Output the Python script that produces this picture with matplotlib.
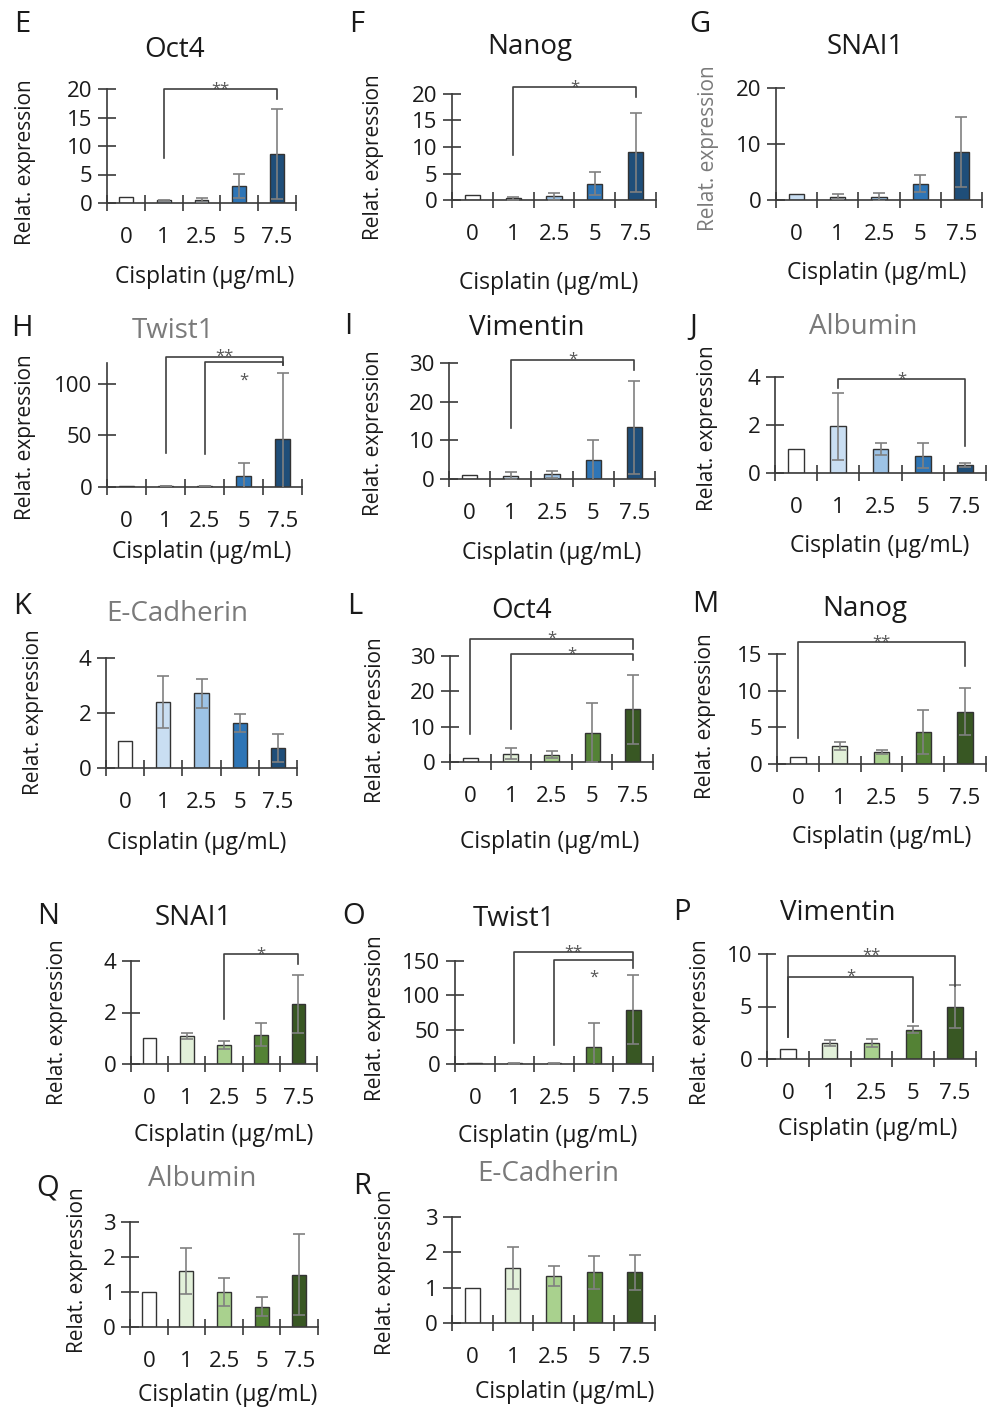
import matplotlib.pyplot as plt
import numpy as np

plt.rcParams['font.family'] = ['Open Sans', 'DejaVu Sans']

W, H = 988, 1410
doses = ['0', '1', '2.5', '5', '7.5']
blues = ['#ffffff', '#c9def2', '#9dc3e6', '#2e75b6', '#1f4e79']
blues_g = ['#c9def2', '#c9def2', '#9dc3e6', '#2e75b6', '#1f4e79']
greens = ['#ffffff', '#e2f0d9', '#a9d18e', '#548235', '#385723']

# blue series (E-K)
oct4_b = [1.0, 0.5, 0.6, 3.0, 8.6]
oct4_b_err = [0, 0.1, 0.35, 2.1, 7.9]
nanog_b = [1.0, 0.3, 0.7, 3.1, 9.0]
nanog_b_err = [0, 0.35, 0.65, 2.1, 7.5]
snai1_b = [1.0, 0.6, 0.6, 2.9, 8.6]
snai1_b_err = [0, 0.5, 0.7, 1.5, 6.2]
twist1_b = [1.0, 0.8, 0.9, 10.3, 46.8]
twist1_b_err = [0, 0.3, 0.3, 12.9, 64.0]
vim_b = [1.0, 0.9, 1.2, 4.8, 13.4]
vim_b_err = [0, 0.9, 0.9, 5.3, 12.0]
alb_b = [1.0, 1.95, 1.0, 0.72, 0.33]
alb_b_err = [0, 1.4, 0.24, 0.52, 0.08]
ecad_b = [1.0, 2.39, 2.72, 1.63, 0.72]
ecad_b_err = [0, 0.95, 0.53, 0.32, 0.5]

# green series (L-R)
oct4_g = [1.0, 2.4, 2.1, 8.3, 14.9]
oct4_g_err = [0, 1.5, 0.9, 8.4, 9.7]
nanog_g = [1.0, 2.45, 1.64, 4.3, 7.1]
nanog_g_err = [0, 0.6, 0.27, 3.0, 3.2]
snai1_g = [1.0, 1.08, 0.74, 1.13, 2.32]
snai1_g_err = [0, 0.12, 0.16, 0.45, 1.13]
twist1_g = [1.0, 1.0, 1.0, 24.2, 79.3]
twist1_g_err = [0, 0.3, 0.3, 36.0, 50.0]
vim_g = [1.0, 1.55, 1.55, 2.8, 5.0]
vim_g_err = [0, 0.3, 0.4, 0.3, 2.05]
alb_g = [1.0, 1.6, 1.0, 0.58, 1.5]
alb_g_err = [0, 0.65, 0.4, 0.27, 1.15]
ecad_g = [1.0, 1.55, 1.32, 1.43, 1.43]
ecad_g_err = [0, 0.6, 0.28, 0.47, 0.5]

# significance brackets: (from, to, top, left end, right end, label, above)
br_E = [(1, 4, 20, 7.9, 18.2, '**', True)]
br_F = [(1, 4, 21.3, 8.5, 19.4, '*', True)]
br_H = [(1, 4, 126, 33, 118, '**', True), (2, 4, 121, 32, 118, '*', False)]
br_I = [(1, 4, 30.9, 13.1, 28.1, '*', True)]
br_J = [(1, 4, 3.9, 3.55, 1.13, '*', True)]
br_L = [(0, 4, 34.9, 8.0, 32.1, '*', True), (1, 4, 30.5, 9.4, 29.0, '*', True)]
br_M = [(0, 4, 16.6, 3.5, 13.3, '**', True)]
br_N = [(2, 4, 4.26, 1.73, 3.9, '*', True)]
br_O = [(1, 4, 163, 30, 153, '**', True), (2, 4, 152, 27, 140, '*', False)]
br_P = [(0, 4, 9.84, 2.1, 6.95, '**', True), (0, 3, 7.84, 2.1, 3.56, '*', True)]

fig = plt.figure(figsize=(W / 100, H / 100), dpi=100)
DARK = '#1a1a1a'
GRAY = '#7a7a7a'


def ftext(x, y, s, **kw):
    fig.text(x / W, 1 - y / H, s, ha='center', va='center', **kw)


def panel(box, vals, errs, colors, ymax, yticks, brackets=()):
    left, right, y0, ytop = box
    ax = fig.add_axes([left / W, 1 - y0 / H, (right - left) / W, (y0 - ytop) / H])
    x = np.arange(len(doses))
    ax.bar(x, vals, width=0.37, color=colors, edgecolor='#333333', linewidth=1, zorder=2)
    e = np.array(errs)
    m = e > 0
    ax.errorbar(x[m], np.array(vals)[m], yerr=e[m], fmt='none', ecolor='#808080',
                elinewidth=1.2, capsize=4.5, capthick=1.2, zorder=3)
    ax.set_xlim(-0.5, 4.5)
    ax.set_ylim(0, ymax)
    ax.set_yticks(yticks)
    ax.set_xticks(np.arange(-0.5, 5, 1))
    ax.set_xticklabels([])
    ax.set_xticks(x, doses, minor=True)
    for s in ['top', 'right']:
        ax.spines[s].set_visible(False)
    for s in ['left', 'bottom']:
        ax.spines[s].set_color('#3a3a3a')
        ax.spines[s].set_linewidth(1.2)
    ax.tick_params(axis='y', direction='inout', length=13, width=1.2, color='#3a3a3a',
                   labelsize=16, labelcolor=DARK, pad=4)
    ax.tick_params(axis='x', which='major', direction='inout', length=11, width=1.2,
                   color='#3a3a3a')
    ax.tick_params(axis='x', which='minor', length=0, labelsize=16, labelcolor=DARK, pad=17)
    ax.patch.set_alpha(0)
    for i0, i1, top, lb, rb, lab, above in brackets:
        ax.plot([i0, i0, i1, i1], [lb, top, top, rb], color='#404040', lw=1.2,
                clip_on=False, zorder=4)
        ax.annotate(lab, xy=((i0 + i1) / 2, top), xytext=(0, -3 if above else -16),
                    textcoords='offset points', ha='center', va='baseline',
                    fontsize=12, color='#555555', annotation_clip=False)
    return ax


def labels(letter, lxy, title, txy, tcol, xl, yl, ycol=DARK):
    ftext(*lxy, letter, fontsize=21, color=DARK)
    ftext(*txy, title, fontsize=20, color=tcol)
    ftext(*xl, 'Cisplatin (µg/mL)', fontsize=16.5, color=DARK)
    ftext(*yl, 'Relat. expression', fontsize=15, color=ycol, rotation=90)


panel((107, 296, 203, 89), oct4_b, oct4_b_err, blues, 20, [0, 5, 10, 15, 20], br_E)
labels('E', (22, 25), 'Oct4', (175, 50), DARK, (205, 277), (25, 162))

panel((452, 656, 200, 94), nanog_b, nanog_b_err, blues, 20, [0, 5, 10, 15, 20], br_F)
labels('F', (357, 25), 'Nanog', (530, 47), DARK, (549, 283), (373, 157))

panel((776, 982, 200, 88), snai1_b, snai1_b_err, blues_g, 20, [0, 10, 20])
labels('G', (700, 25), 'SNAI1', (865, 47), DARK, (877, 273), (708, 148), GRAY)

panel((107, 302, 487, 363), twist1_b, twist1_b_err, blues, 120, [0, 50, 100], br_H)
labels('H', (22, 329), 'Twist1', (173, 331), GRAY, (202, 552), (25, 437))

panel((449, 655, 479, 363), vim_b, vim_b_err, blues, 30, [0, 10, 20, 30], br_I)
labels('I', (348, 327), 'Vimentin', (527, 328), DARK, (552, 553), (373, 433))

panel((775, 986, 473, 377), alb_b, alb_b_err, blues, 4, [0, 2, 4], br_J)
labels('J', (693, 327), 'Albumin', (863, 327), GRAY, (880, 546), (707, 428))

panel((106, 297, 768, 658), ecad_b, ecad_b_err, blues, 4, [0, 2, 4])
labels('K', (22, 607), 'E-Cadherin', (177, 614), GRAY, (197, 843), (33, 712))

panel((450, 653, 762, 656), oct4_g, oct4_g_err, greens, 30, [0, 10, 20, 30], br_L)
labels('L', (355, 607), 'Oct4', (522, 611), DARK, (550, 842), (375, 720))

panel((777, 986, 764, 654), nanog_g, nanog_g_err, greens, 15, [0, 5, 10, 15], br_M)
labels('M', (705, 605), 'Nanog', (865, 609), DARK, (882, 837), (705, 716))

panel((131, 317, 1064, 961), snai1_g, snai1_g_err, greens, 4, [0, 2, 4], br_N)
labels('N', (48, 916), 'SNAI1', (193, 918), DARK, (224, 1135), (58, 1022))

panel((455, 653, 1064, 961), twist1_g, twist1_g_err, greens, 150, [0, 50, 100, 150], br_O)
labels('O', (354, 916), 'Twist1', (514, 919), DARK, (548, 1136), (375, 1018))

panel((767, 976, 1059, 954), vim_g, vim_g_err, greens, 10, [0, 5, 10], br_P)
labels('P', (682, 913), 'Vimentin', (838, 913), DARK, (868, 1129), (700, 1022))

panel((130, 318, 1327, 1222), alb_g, alb_g_err, greens, 3, [0, 1, 2, 3])
labels('Q', (48, 1188), 'Albumin', (202, 1179), GRAY, (228, 1395), (78, 1270))

panel((452, 655, 1323, 1217), ecad_g, ecad_g_err, greens, 3, [0, 1, 2, 3])
labels('R', (362, 1187), 'E-Cadherin', (548, 1174), GRAY, (565, 1392), (385, 1272))

fig.savefig('out.png', dpi=100)
